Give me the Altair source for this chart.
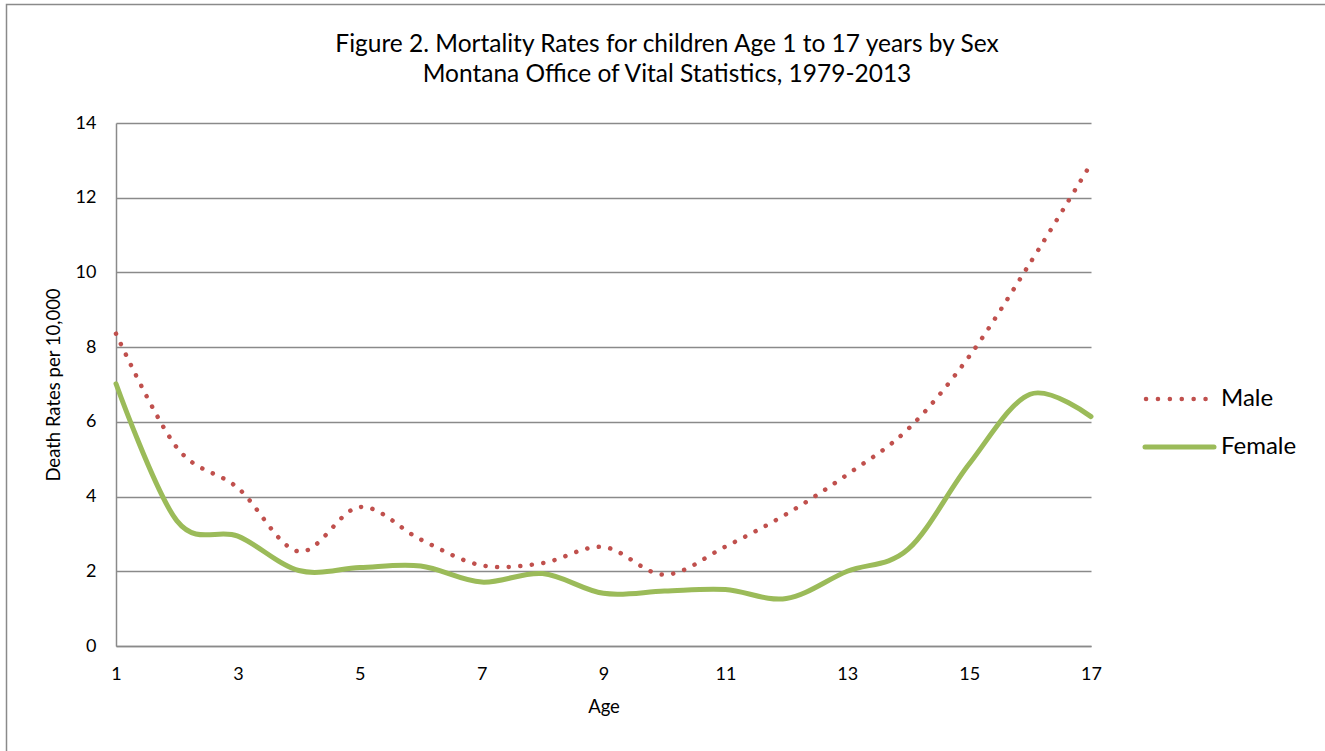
import altair as alt
import pandas as pd

ages = list(range(1, 18))
male = [8.36, 5.31, 4.23, 2.53, 3.72, 2.85, 2.16, 2.22, 2.65, 1.91, 2.66, 3.53, 4.59, 5.81, 7.75, 10.25, 12.91]
female = [7.02, 3.35, 2.94, 2.02, 2.10, 2.14, 1.71, 1.94, 1.41, 1.47, 1.51, 1.27, 2.00, 2.59, 4.87, 6.74, 6.14]
series_names = ["Male", "Female"]
series_colors = ["#C0504D", "#9BBB59"]
x_ticks = [1, 3, 5, 7, 9, 11, 13, 15, 17]
y_ticks = [0, 2, 4, 6, 8, 10, 12, 14]
title_lines = ["Figure 2. Mortality Rates for children Age 1 to 17 years by Sex",
               "Montana Office of Vital Statistics, 1979-2013"]

df = pd.DataFrame({
    "Age": ages * 2,
    "Rate": male + female,
    "Sex": ["Male"] * len(ages) + ["Female"] * len(ages),
})
legend_df = pd.DataFrame({"Sex": series_names})
title_df = pd.DataFrame({"line": title_lines, "idx": [0, 1]})

W, H = 975, 523
FONT = "Lato"
GRID = "#8a8a8a"

x_enc = alt.X("Age:Q", scale=alt.Scale(domain=[1, 17], nice=False, zero=False),
              axis=alt.Axis(values=x_ticks, title="Age", grid=False, ticks=False,
                            domainColor=GRID, domainWidth=1.5, labelPadding=19,
                            labelFontSize=18, titleFontSize=18.5, titlePadding=14,
                            labelFlush=False))
y_enc = alt.Y("Rate:Q", scale=alt.Scale(domain=[0, 14], nice=False),
              axis=alt.Axis(values=y_ticks, title="Death Rates per 10,000", grid=True,
                            gridColor=GRID, gridWidth=1.5, ticks=False,
                            domainColor=GRID, domainWidth=1.5, labelPadding=20,
                            labelFontSize=18, titleFontSize=18.5, titlePadding=12))

male_line = alt.Chart(df).transform_filter(alt.datum.Sex == "Male").mark_line(
    color=series_colors[0], strokeWidth=4.5, strokeDash=[0.1, 11.5], strokeCap="round",
    interpolate="cardinal", tension=0
).encode(x=x_enc, y=y_enc)

female_line = alt.Chart(df).transform_filter(alt.datum.Sex == "Female").mark_line(
    color=series_colors[1], strokeWidth=5, strokeCap="round",
    interpolate="cardinal", tension=0
).encode(x=x_enc, y=y_enc)

# legend (drawn manually so the dotted symbol matches)
leg_male = alt.Chart(legend_df).transform_filter(alt.datum.Sex == "Male").mark_rule(
    color=series_colors[0], strokeWidth=4.5, strokeDash=[0.1, 11.8], strokeCap="round"
).encode(x=alt.value(1030), x2=alt.value(1090), y=alt.value(276))
leg_female = alt.Chart(legend_df).transform_filter(alt.datum.Sex == "Female").mark_rule(
    color=series_colors[1], strokeWidth=5, strokeCap="round"
).encode(x=alt.value(1029), x2=alt.value(1098), y=alt.value(324))
leg_male_txt = alt.Chart(legend_df).transform_filter(alt.datum.Sex == "Male").mark_text(
    align="left", baseline="middle", fontSize=24, font=FONT, color="black"
).encode(x=alt.value(1105), y=alt.value(276), text="Sex:N")
leg_female_txt = alt.Chart(legend_df).transform_filter(alt.datum.Sex == "Female").mark_text(
    align="left", baseline="middle", fontSize=24, font=FONT, color="black"
).encode(x=alt.value(1105), y=alt.value(324), text="Sex:N")

# title lines
title1 = alt.Chart(title_df).transform_filter(alt.datum.idx == 0).mark_text(
    align="center", baseline="middle", fontSize=24.5, font=FONT, color="black"
).encode(x=alt.value(551), y=alt.value(-78), text="line:N")
title2 = alt.Chart(title_df).transform_filter(alt.datum.idx == 1).mark_text(
    align="center", baseline="middle", fontSize=24.5, font=FONT, color="black"
).encode(x=alt.value(551), y=alt.value(-48), text="line:N")

frame = alt.Chart(legend_df.head(1)).mark_rect(
    fillOpacity=0, stroke=GRID, strokeWidth=1.5
).encode(x=alt.value(-109.5), x2=alt.value(1400), y=alt.value(-118.5), y2=alt.value(800))

chart = alt.layer(
    frame, male_line, female_line, leg_male, leg_female, leg_male_txt, leg_female_txt,
    title1, title2
).properties(
    width=W, height=H,
    padding={"left": 116, "top": 123, "right": 234, "bottom": 105},
    autosize=alt.AutoSizeParams(type="none"),
).configure_view(stroke=None).configure_axis(
    labelFont=FONT, titleFont=FONT, labelColor="black", titleColor="black",
    titleFontWeight="normal"
)

chart.save("out.html", embed_options={"renderer": "svg", "actions": False})
